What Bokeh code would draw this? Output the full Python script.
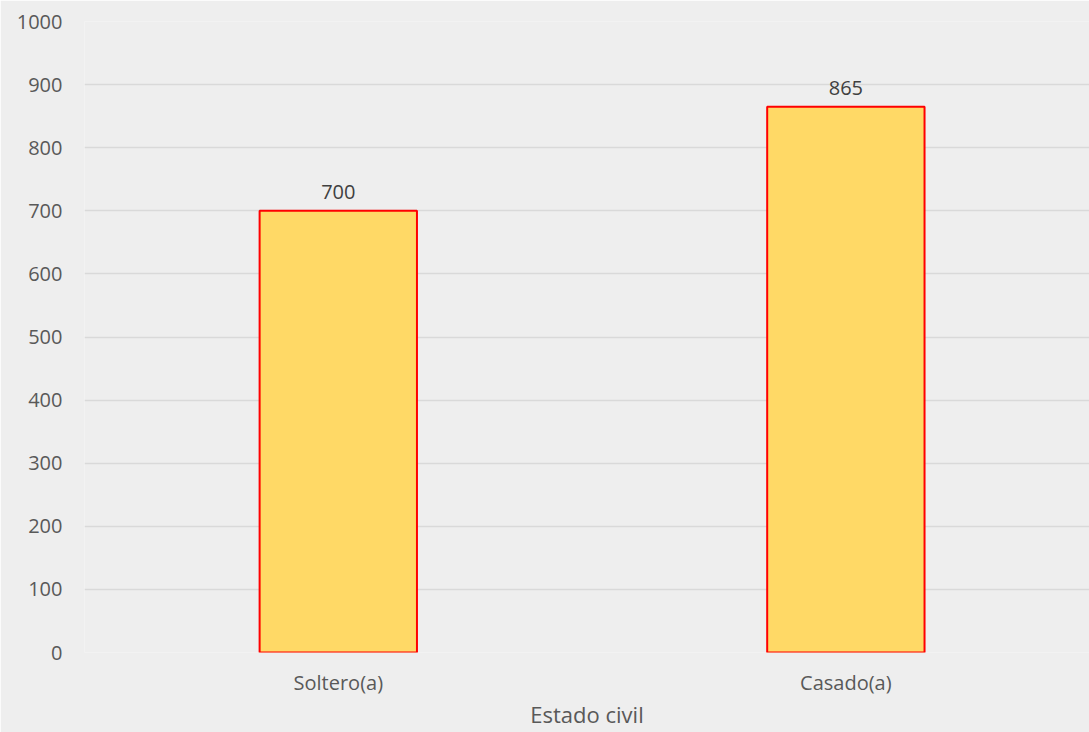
from bokeh.plotting import figure
from bokeh.models import ColumnDataSource, Range1d, FixedTicker, LabelSet
from bokeh.core.properties import value
from bokeh.embed import file_html
from bokeh.resources import INLINE

categories = ["Soltero(a)", "Casado(a)"]
values = [700, 865]
y_ticks = [0, 100, 200, 300, 400, 500, 600, 700, 800, 900, 1000]
x_title = "Estado civil"

xs = [i + 0.5 for i in range(len(categories))]
src = ColumnDataSource(dict(x=xs, top=values, label=[str(v) for v in values]))

p = figure(width=1089, height=732, output_backend="svg", toolbar_location=None,
           x_range=Range1d(0, 1.98), y_range=Range1d(0, 1000),
           min_border_left=84, min_border_right=0, min_border_top=21, min_border_bottom=80)
p.background_fill_color = "#eeeeee"
p.border_fill_color = "#eeeeee"
p.outline_line_color = None

p.vbar(x="x", top="top", width=0.31, bottom=0, source=src,
       fill_color="#ffd966", line_color="#ff0000", line_width=2)

labels = LabelSet(x="x", y="top", text="label", source=src, text_align="center",
                  text_baseline="bottom", y_offset=12, text_font=value("Open Sans"),
                  text_font_size="20px", text_color="#404040")
p.add_layout(labels)

p.yaxis.ticker = FixedTicker(ticks=y_ticks)
p.xaxis.ticker = FixedTicker(ticks=xs)
p.xaxis.major_label_overrides = {x: c for x, c in zip(xs, categories)}
for ax in (p.xaxis[0], p.yaxis[0]):
    ax.axis_line_color = None
    ax.major_tick_line_color = None
    ax.minor_tick_line_color = None
    ax.major_tick_out = 0
    ax.major_tick_in = 0
    ax.minor_tick_out = 0
    ax.major_label_text_font = "Open Sans"
    ax.major_label_text_font_size = "20px"
    ax.major_label_text_color = "#595959"
p.yaxis.major_label_standoff = 22
p.xaxis.major_label_standoff = 16
p.xaxis.axis_label = x_title
p.xaxis.axis_label_text_font = "Open Sans"
p.xaxis.axis_label_text_font_size = "22px"
p.xaxis.axis_label_text_font_style = "normal"
p.xaxis.axis_label_text_color = "#595959"
p.xaxis.axis_label_standoff = 0

p.xgrid.grid_line_color = None
p.ygrid.grid_line_color = "#d9d9d9"
p.ygrid.ticker = FixedTicker(ticks=y_ticks)
p.ygrid.grid_line_width = 1.5

open("out.html", "w").write(file_html(p, INLINE))
